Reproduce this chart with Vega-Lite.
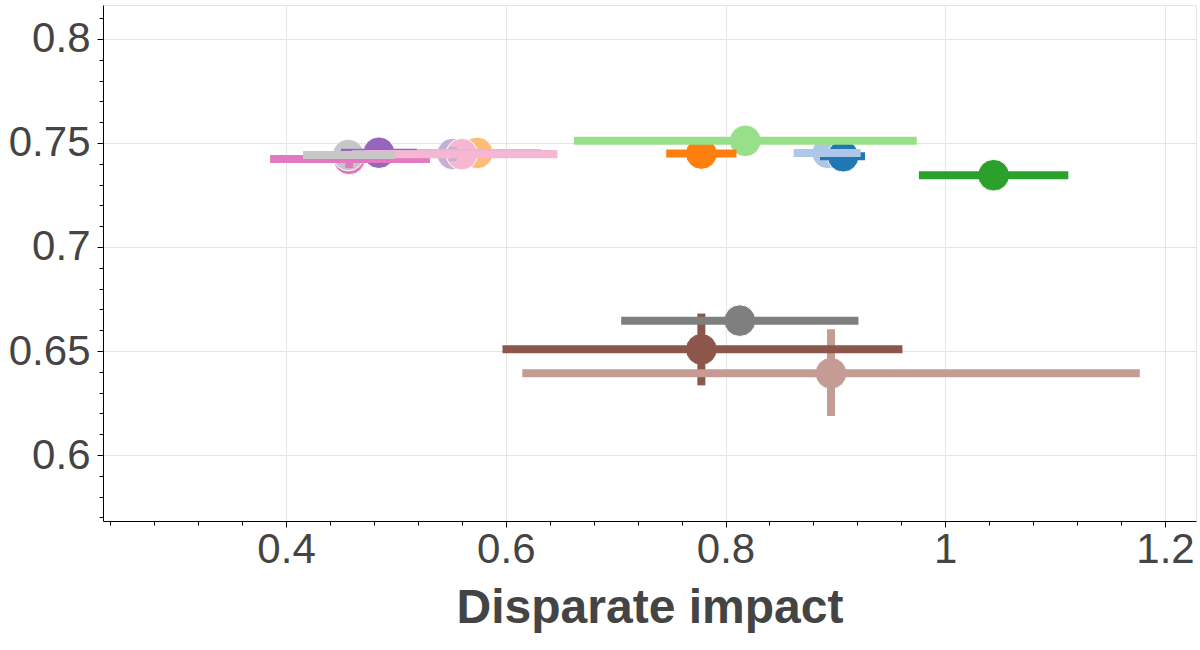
{
  "$schema": "https://vega.github.io/schema/vega-lite/v6.json",
  "width": 1093,
  "height": 516,
  "autosize": "none",
  "padding": {"left": 103, "top": 5, "right": 4, "bottom": 129},
  "background": "white",
  "config": {
    "view": {"stroke": "#e5e5e5", "strokeWidth": 1},
    "font": "Liberation Sans"
  },
  "data": {
    "values": [
      {"series": "blue", "x": 0.907, "y": 0.7436, "xmin": 0.886, "xmax": 0.927, "draw": 2},
      {"series": "light blue", "x": 0.893, "y": 0.7452, "xmin": 0.862, "xmax": 0.923, "draw": 1},
      {"series": "orange", "x": 0.778, "y": 0.7449, "xmin": 0.746, "xmax": 0.81, "draw": 3},
      {"series": "light orange", "x": 0.574, "y": 0.7452, "xmin": 0.517, "xmax": 0.632, "draw": 9},
      {"series": "green", "x": 1.044, "y": 0.7345, "xmin": 0.976, "xmax": 1.112, "draw": 5},
      {"series": "light green", "x": 0.818, "y": 0.751, "xmin": 0.662, "xmax": 0.974, "draw": 4},
      {"series": "purple", "x": 0.4845, "y": 0.7453, "xmin": 0.45, "xmax": 0.519, "draw": 8},
      {"series": "light purple", "x": 0.5517, "y": 0.7447, "xmin": 0.46, "xmax": 0.643, "ymin": 0.7413, "ymax": 0.7481, "draw": 10},
      {"series": "brown", "x": 0.778, "y": 0.6508, "xmin": 0.597, "xmax": 0.961, "ymin": 0.6335, "ymax": 0.668, "draw": 13},
      {"series": "light brown", "x": 0.896, "y": 0.6393, "xmin": 0.615, "xmax": 1.177, "ymin": 0.6188, "ymax": 0.6605, "draw": 14},
      {"series": "pink", "x": 0.4575, "y": 0.7423, "xmin": 0.3855, "xmax": 0.531, "ymin": 0.7379, "ymax": 0.7465, "draw": 6},
      {"series": "light pink", "x": 0.56, "y": 0.7446, "xmin": 0.4725, "xmax": 0.647, "draw": 11},
      {"series": "gray", "x": 0.813, "y": 0.6646, "xmin": 0.705, "xmax": 0.921, "draw": 12},
      {"series": "light gray", "x": 0.4567, "y": 0.7442, "xmin": 0.4155, "xmax": 0.499, "draw": 7}
    ]
  },
  "encoding": {
    "color": {
      "field": "series",
      "type": "nominal",
      "legend": null,
      "scale": {
        "domain": ["blue", "light blue", "orange", "light orange", "green", "light green", "purple", "light purple", "brown", "light brown", "pink", "light pink", "gray", "light gray"],
        "range": ["#1f77b4", "#aec7e8", "#ff7f0e", "#ffbb78", "#2ca02c", "#98df8a", "#9467bd", "#c5b0d5", "#8c564b", "#c49c94", "#e377c2", "#f7b6d2", "#7f7f7f", "#c7c7c7"]
      }
    }
  },
  "layer": [
    {
      "mark": {"type": "circle", "size": 1000, "opacity": 1, "stroke": "white", "strokeWidth": 1},
      "encoding": {
        "x": {
          "field": "x",
          "type": "quantitative",
          "scale": {"domain": [0.2334, 1.2282], "nice": false, "zero": false},
          "axis": {
            "orient": "bottom",
            "values": [0.4, 0.6, 0.8, 1, 1.2],
            "format": "~g",
            "grid": true,
            "gridColor": "#e5e5e5",
            "gridWidth": 1,
            "domainColor": "black",
            "domainWidth": 1,
            "tickColor": "black",
            "tickSize": 6,
            "labelFontSize": 42,
            "labelColor": "#444444",
            "labelPadding": 2,
            "title": "Disparate impact",
            "titleFontSize": 48,
            "titleFontWeight": "bold",
            "titleColor": "#444444",
            "titlePadding": 14
          }
        },
        "y": {
          "field": "y",
          "type": "quantitative",
          "scale": {"domain": [0.5683, 0.8163], "nice": false, "zero": false},
          "axis": {
            "orient": "left",
            "values": [0.6, 0.65, 0.7, 0.75, 0.8],
            "format": "~g",
            "grid": true,
            "gridColor": "#e5e5e5",
            "gridWidth": 1,
            "domainColor": "black",
            "domainWidth": 1,
            "tickColor": "black",
            "tickSize": 6,
            "labelFontSize": 42,
            "labelColor": "#444444",
            "labelPadding": 7,
            "title": null
          }
        },
        "order": {"field": "draw", "type": "quantitative"}
      }
    },
    {
      "transform": [{"filter": "isValid(datum.ymin)"}],
      "mark": {"type": "rule", "strokeWidth": 8},
      "encoding": {
        "x": {"field": "x", "type": "quantitative", "axis": null},
        "y": {"field": "ymin", "type": "quantitative", "axis": null},
        "y2": {"field": "ymax"}
      }
    },
    {
      "mark": {"type": "rule", "strokeWidth": 8},
      "encoding": {
        "x": {"field": "xmin", "type": "quantitative", "axis": null},
        "x2": {"field": "xmax"},
        "y": {"field": "y", "type": "quantitative", "axis": null}
      }
    },
    {
      "mark": {"type": "circle", "opacity": 0},
      "encoding": {
        "x": {
          "field": "x",
          "type": "quantitative",
          "axis": {
            "orient": "bottom",
            "values": [0.24, 0.28, 0.32, 0.36, 0.44, 0.48, 0.52, 0.56, 0.64, 0.68, 0.72, 0.76, 0.84, 0.88, 0.92, 0.96, 1.04, 1.08, 1.12, 1.16],
            "labels": false,
            "grid": false,
            "domain": false,
            "tickColor": "black",
            "tickSize": 4,
            "title": null
          }
        },
        "y": {
          "field": "y",
          "type": "quantitative",
          "axis": {
            "orient": "left",
            "values": [0.57, 0.58, 0.59, 0.61, 0.62, 0.63, 0.64, 0.66, 0.67, 0.68, 0.69, 0.71, 0.72, 0.73, 0.74, 0.76, 0.77, 0.78, 0.79, 0.81],
            "labels": false,
            "grid": false,
            "domain": false,
            "tickColor": "black",
            "tickSize": 4,
            "title": null
          }
        }
      }
    }
  ],
  "resolve": {"axis": {"x": "independent", "y": "independent"}}
}
